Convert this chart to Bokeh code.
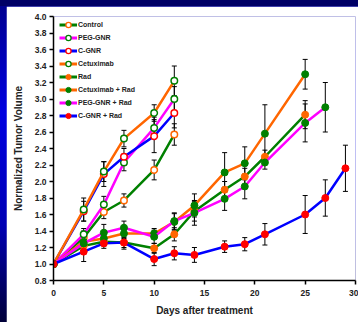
from bokeh.plotting import figure
from bokeh.models import (ColumnDataSource, Whisker, TeeHead, Legend, LegendItem, Range1d,
                          FixedTicker, PrintfTickFormatter)
from bokeh.layouts import column
from bokeh.embed import file_html
from bokeh.resources import INLINE

# ---- data ----
days_early = [0, 3, 5, 7, 10, 12]
control = [1.0, 1.32, 1.63, 1.77, 2.14, 2.57]
control_err = [0, 0.08, 0.08, 0.08, 0.12, 0.13]
peg = [1.0, 1.36, 1.72, 2.23, 2.65, 3.00]
peg_err = [0, 0.07, 0.10, 0.10, 0.13, 0.15]
cgnr = [1.0, 1.64, 2.09, 2.30, 2.55, 2.83]
cgnr_err = [0, 0.12, 0.15, 0.10, 0.20, 0.18]
cetux = [1.0, 1.66, 2.12, 2.52, 2.83, 3.22]
cetux_err = [0, 0.14, 0.12, 0.10, 0.10, 0.18]

days_rad = [0, 3, 5, 7, 10, 12, 14, 17, 19, 21, 25]
rad = [1.0, 1.22, 1.27, 1.26, 1.19, 1.36, 1.64, 1.90, 2.06, 2.30, 2.81]
rad_err = [0, 0.06, 0.05, 0.06, 0.06, 0.08, 0.12, 0.10, 0.10, 0.08, 0.17]
cetrad = [1.0, 1.27, 1.31, 1.37, 1.37, 1.51, 1.71, 2.11, 2.22, 2.58, 3.30]
cetrad_err = [0, 0.06, 0.06, 0.06, 0.06, 0.10, 0.14, 0.24, 0.20, 0.35, 0.18]

days_pegrad = [0, 3, 5, 7, 10, 12, 14, 17, 19, 21, 25, 27]
pegrad = [1.0, 1.25, 1.38, 1.44, 1.33, 1.52, 1.62, 1.79, 1.94, 2.23, 2.71, 2.90]
pegrad_err = [0, 0.08, 0.10, 0.08, 0.08, 0.10, 0.15, 0.14, 0.15, 0.08, 0.23, 0.30]

days_cgnrrad = [0, 3, 5, 7, 10, 12, 14, 17, 19, 21, 25, 27, 29]
cgnrrad = [1.0, 1.15, 1.25, 1.26, 1.06, 1.13, 1.11, 1.21, 1.24, 1.36, 1.60, 1.80, 2.16]
cgnrrad_err = [0, 0.12, 0.06, 0.08, 0.08, 0.08, 0.09, 0.07, 0.08, 0.13, 0.23, 0.22, 0.28]

x_ticks = [0, 5, 10, 15, 20, 25, 30]
y_ticks = [0.8, 1.0, 1.2, 1.4, 1.6, 1.8, 2.0, 2.2, 2.4, 2.6, 2.8, 3.0, 3.2, 3.4, 3.6, 3.8, 4.0]

GREEN = "#008000"
ORANGE = "#ff6600"
MAGENTA = "#ff00ff"
BLUE = "#0000ff"
RED = "#ff0000"
FONT = "Liberation Sans"

# (label, days, values, errs, line colour, marker colour, filled)
series = [
    ("Control", days_early, control, control_err, GREEN, ORANGE, False),
    ("PEG-GNR", days_early, peg, peg_err, MAGENTA, GREEN, False),
    ("C-GNR", days_early, cgnr, cgnr_err, BLUE, RED, False),
    ("Cetuximab", days_early, cetux, cetux_err, ORANGE, GREEN, False),
    ("Rad", days_rad, rad, rad_err, GREEN, ORANGE, True),
    ("Cetuximab + Rad", days_rad, cetrad, cetrad_err, ORANGE, GREEN, True),
    ("PEG-GNR + Rad", days_pegrad, pegrad, pegrad_err, MAGENTA, GREEN, True),
    ("C-GNR + Rad", days_cgnrrad, cgnrrad, cgnrrad_err, BLUE, RED, True),
]

p = figure(width=352, height=316, output_backend="svg", toolbar_location=None,
           x_range=Range1d(0, 30), y_range=Range1d(0.8, 4.0),
           min_border_left=47, min_border_right=3, min_border_top=10, min_border_bottom=42,
           background_fill_color="white", border_fill_color="white")
p.margin = (6, 0, 0, 6)
p.outline_line_color = None
p.grid.visible = False

for ax in (p.xaxis[0], p.yaxis[0]):
    ax.axis_line_color = "black"
    ax.axis_line_width = 1.5
    ax.major_tick_line_color = "black"
    ax.major_tick_line_width = 1.5
    ax.major_tick_in = 0
    ax.major_tick_out = 4
    ax.minor_tick_line_color = None
    ax.major_label_text_font = FONT
    ax.major_label_text_font_style = "bold"
    ax.major_label_text_font_size = "8.5px"
    ax.major_label_text_color = "#222222"
    ax.axis_label_text_font = FONT
    ax.axis_label_text_font_style = "bold"
    ax.axis_label_text_font_size = "10px"
    ax.axis_label_text_color = "#222222"

p.xaxis.ticker = FixedTicker(ticks=x_ticks)
p.yaxis.ticker = FixedTicker(ticks=y_ticks)
p.yaxis.formatter = PrintfTickFormatter(format="%.1f")
p.xaxis.major_label_standoff = 5
p.yaxis.major_label_standoff = 3
p.xaxis.axis_label = "Days after treatment"
p.yaxis.axis_label = "Normalized Tumor Volume"
p.xaxis.axis_label_standoff = 6
p.yaxis.axis_label_standoff = 8

NAN = float("nan")
items = []
for label, d, v, e, lc, mc, filled in series:
    lower = [a - b for a, b in zip(v, e)]
    upper = [a + b for a, b in zip(v, e)]
    src = ColumnDataSource(dict(x=d, y=v, lower=lower, upper=upper))
    w = Whisker(source=src, base="x", lower="lower", upper="upper", dimension="height",
                line_color="black", line_width=1,
                upper_head=TeeHead(size=5, line_color="black", line_width=1),
                lower_head=TeeHead(size=5, line_color="black", line_width=1))
    p.add_layout(w)
    p.line("x", "y", source=src, line_color=lc, line_width=2.5)
    if filled:
        p.scatter("x", "y", source=src, size=7, fill_color=mc, line_color=mc, line_width=1)
    else:
        p.scatter("x", "y", source=src, size=6.5, fill_color="white", line_color=mc, line_width=1.5)
    # legend-only glyphs (smaller markers, no visible data)
    leg_src = ColumnDataSource(dict(x=[NAN], y=[NAN]))
    lr = p.line("x", "y", source=leg_src, line_color=lc, line_width=3)
    if filled:
        sr = p.scatter("x", "y", source=leg_src, size=5, fill_color=mc, line_color=mc, line_width=1)
    else:
        sr = p.scatter("x", "y", source=leg_src, size=5, fill_color="white", line_color=mc, line_width=1.3)
    items.append(LegendItem(label=label, renderers=[lr, sr]))

legend = Legend(items=items, location=(6, 158), padding=0, margin=0, spacing=0,
                glyph_width=18, glyph_height=13, label_height=13, label_standoff=1,
                label_text_font=FONT, label_text_font_style="bold", label_text_font_size="7px",
                label_text_color="#222222",
                background_fill_alpha=0, border_line_alpha=0)
p.add_layout(legend)

layout = column(p, styles={
    "background": "linear-gradient(#000066,#000066) 0 0/100% 6px no-repeat, "
                  "linear-gradient(to bottom,#00008c 0%,#0000e0 35%,#0000b4 70%,#000038 100%)",
    "width": "358px", "height": "322px",
})

open("out.html", "w").write(file_html(layout, INLINE))
